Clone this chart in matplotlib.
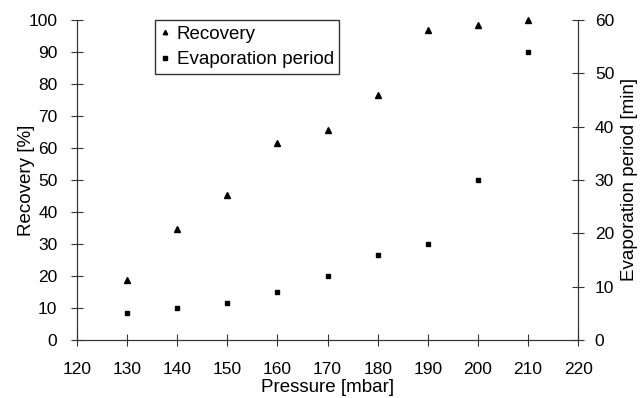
import matplotlib
matplotlib.use("Agg")
import matplotlib.pyplot as plt

plt.rcParams['font.family'] = ['Liberation Sans', 'DejaVu Sans']

# data
pressure = [130, 140, 150, 160, 170, 180, 190, 200, 210]
recovery = [18.7, 34.8, 45.3, 61.6, 65.5, 76.4, 96.8, 98.4, 100]
evap_period = [5, 6, 7, 9, 12, 16, 18, 30, 54]

fig = plt.figure(figsize=(6.41, 3.98), dpi=100)
ax = fig.add_axes([0.120, 0.146, 0.782, 0.804])
ax2 = ax.twinx()

h1, = ax.plot(pressure, recovery, linestyle='none', marker='^', color='black',
              markersize=4, label='Recovery', clip_on=False)
h2, = ax2.plot(pressure, evap_period, linestyle='none', marker='s', color='black',
               markersize=3.5, label='Evaporation period', clip_on=False)

ax.set_xlim(120, 220)
ax.set_ylim(0, 100)
ax2.set_ylim(0, 60)
ax.set_xticks(range(120, 221, 10))
ax.set_yticks(range(0, 101, 10))
ax2.set_yticks(range(0, 61, 10))

for a in (ax, ax2):
    a.spines['top'].set_visible(False)
    for s in a.spines.values():
        s.set_linewidth(0.8)
        s.set_color('#333333')
    a.tick_params(direction='inout', length=8, width=0.8, labelsize=12.5,
                  color='#333333')
ax.tick_params(axis='x', pad=12)
ax.tick_params(axis='y', pad=10)
ax2.tick_params(axis='y', pad=8)

ax.set_xlabel('Pressure [mbar]', fontsize=13.5, labelpad=1)
ax.set_ylabel('Recovery [%]', fontsize=13.5, labelpad=-5)
ax2.set_ylabel('Evaporation period [min]', fontsize=13.5, labelpad=5)

ax.legend(handles=[h1, h2], loc='upper left', bbox_to_anchor=(0.156, 1.0),
          borderaxespad=0, fontsize=13.5, frameon=True, fancybox=False,
          edgecolor='black', handlelength=0.5, handletextpad=0.35,
          borderpad=0.3, labelspacing=0.45, markerscale=0.8)

fig.savefig('out.png', dpi=100)
